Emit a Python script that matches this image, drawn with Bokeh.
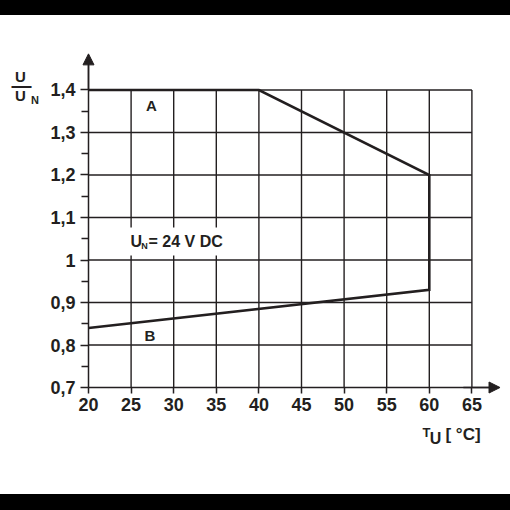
from bokeh.plotting import figure
from bokeh.models import FixedTicker, Label, Arrow, NormalHead, Div, Range1d
from bokeh.layouts import column
from bokeh.embed import file_html
from bokeh.resources import INLINE

# ---- data -------------------------------------------------------------
x_ticks = [20, 25, 30, 35, 40, 45, 50, 55, 60, 65]
y_ticks = [0.7, 0.8, 0.9, 1.0, 1.1, 1.2, 1.3, 1.4]
y_tick_labels = ["0,7", "0,8", "0,9", "1", "1,1", "1,2", "1,3", "1,4"]
y_minor_ticks = [0.75, 0.85, 0.95, 1.05, 1.15, 1.25, 1.35]

curve_A_x = [20, 40, 60]          # upper limit A
curve_A_y = [1.4, 1.4, 1.2]
curve_B_x = [20, 60]              # lower limit B
curve_B_y = [0.84, 0.93]

INK = "#231f20"
FONT = "Liberation Sans"

# ---- figure -----------------------------------------------------------
p = figure(width=510, height=479,
           x_range=Range1d(9.6714, 69.5305), y_range=Range1d(0.44824, 1.57529),
           output_backend="svg", toolbar_location=None,
           min_border_left=0, min_border_right=0,
           min_border_top=0, min_border_bottom=0)
p.xgrid.visible = False
p.ygrid.visible = False
p.outline_line_color = None
p.background_fill_color = "white"
p.border_fill_color = "white"

# axes, drawn at the origin (20, 0.7)
xa = p.xaxis[0]
xa.fixed_location = 0.7
xa.ticker = FixedTicker(ticks=x_ticks, minor_ticks=[])
xa.bounds = (20, 68)
ya = p.yaxis[0]
ya.fixed_location = 20
ya.ticker = FixedTicker(ticks=y_ticks, minor_ticks=y_minor_ticks)
ya.bounds = (0.7, 1.47)
ya.major_label_overrides = {t: s for t, s in zip(y_ticks, y_tick_labels)}
for ax in (xa, ya):
    ax.axis_line_color = INK
    ax.axis_line_width = 1.5
    ax.major_tick_line_color = INK
    ax.major_tick_line_width = 1.5
    ax.minor_tick_line_color = INK
    ax.minor_tick_line_width = 1.5
    ax.major_tick_in = 0
    ax.minor_tick_in = 0
    ax.major_label_text_font = FONT
    ax.major_label_text_font_style = "bold"
    ax.major_label_text_font_size = "18px"
    ax.major_label_text_color = INK
xa.major_tick_out = 6
xa.minor_tick_out = 0
xa.major_label_standoff = 4
ya.major_tick_out = 8
ya.minor_tick_out = 7
ya.major_label_standoff = 5

# grid (limited to the 20..65 / 0.7..1.4 box)
nv = len(x_ticks) - 1
p.segment(x0=x_ticks[1:], y0=[y_ticks[0]] * nv, x1=x_ticks[1:], y1=[y_ticks[-1]] * nv,
          line_color=INK, line_width=1.4)
nh = len(y_ticks) - 1
p.segment(x0=[x_ticks[0]] * nh, y0=y_ticks[1:], x1=[x_ticks[-1]] * nh, y1=y_ticks[1:],
          line_color=INK, line_width=1.4)

# limit curve A -> vertical at 60 -> B
p.line(curve_A_x + curve_B_x[::-1], curve_A_y + curve_B_y[::-1],
       line_color=INK, line_width=2.6, line_join="miter")

# axis arrows
p.add_layout(Arrow(end=NormalHead(size=11, fill_color=INK, line_color=INK),
                   x_start=20, y_start=1.40, x_end=20, y_end=1.485,
                   line_color=INK, line_width=1.5))
p.add_layout(Arrow(end=NormalHead(size=11, fill_color=INK, line_color=INK),
                   x_start=64, y_start=0.7, x_end=68.3, y_end=0.7,
                   line_color=INK, line_width=1.5))

# white background of the note "U_N = 24 V DC"
p.quad(left=[24.34], right=[36.43], bottom=[1.0106], top=[1.0765],
       fill_color="white", line_color=None)


def lab(x, y, text, size, align="center"):
    p.add_layout(Label(x=x, y=y, text=text, text_font=FONT, text_font_style="bold",
                       text_font_size=size, text_color=INK, text_align=align,
                       text_baseline="middle"))


lab(24.93, 1.0447, "U", "16px", "left")
lab(26.57, 1.0341, "N", "9px")
lab(27.04, 1.0447, "= 24 V DC", "16px", "left")

lab(27.39, 1.3635, "A", "15px")
lab(27.22, 0.8224, "B", "15px")

# y title  U / U_N
lab(12.02, 1.4329, "U", "15px")
lab(12.14, 1.4106, "\u2014", "20px")
lab(12.02, 1.3882, "U", "15px")
lab(13.72, 1.3753, "N", "11px")

# x title  T_U [ °C]
lab(59.67, 0.5941, "T", "13px")
lab(60.73, 0.5800, "U", "16px")
lab(61.90, 0.5894, "[ \u00b0C]", "17px", "left")

top_strip = Div(text="", width=510, height=15, margin=(0, 0, 0, 0),
                styles={"background-color": "black"})
bottom_strip = Div(text="", width=510, height=16, margin=(0, 0, 0, 0),
                   styles={"background-color": "black"})
layout = column(top_strip, p, bottom_strip, spacing=0)

open("out.html", "w").write(file_html(layout, INLINE))
